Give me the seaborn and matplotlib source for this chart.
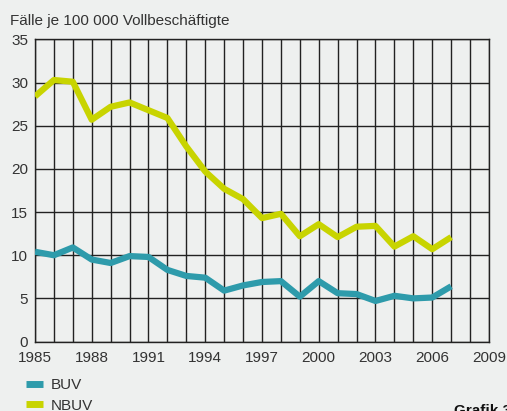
import numpy as np
import pandas as pd
import seaborn as sns
import matplotlib.pyplot as plt
from matplotlib.ticker import FixedLocator, MultipleLocator

years = list(range(1985, 2008))
buv = [10.4, 10.0, 10.9, 9.5, 9.1, 9.9, 9.8, 8.3, 7.6, 7.4, 5.9, 6.5,
       6.9, 7.0, 5.2, 7.0, 5.6, 5.5, 4.7, 5.3, 5.0, 5.1, 6.4]
nbuv = [28.4, 30.3, 30.1, 25.7, 27.2, 27.7, 26.8, 25.9, 22.6, 19.7, 17.7, 16.5,
        14.3, 14.8, 12.2, 13.6, 12.1, 13.3, 13.4, 11.0, 12.2, 10.7, 12.1]
series = ["BUV", "NBUV"]
colors = ["#2e9bab", "#c8d400"]
xticks = list(range(1985, 2010, 3))

df = pd.DataFrame({"Jahr": years * 2,
                   "Wert": buv + nbuv,
                   "Reihe": ["BUV"] * len(years) + ["NBUV"] * len(years)})

bg = "#eef0ef"
sns.set_style("white", {"axes.facecolor": bg, "figure.facecolor": bg})
plt.rcParams["font.family"] = ["Liberation Sans", "DejaVu Sans"]
txt = "#333333"

fig = plt.figure(figsize=(5.07, 4.11), dpi=100)
ax = fig.add_axes([0.069, 0.169, 0.8955, 0.735])

sns.lineplot(data=df, x="Jahr", y="Wert", hue="Reihe", hue_order=series,
             palette=colors, linewidth=4.5, ax=ax, legend=False,
             solid_capstyle="butt", zorder=3)

ax.set_xlim(1985, 2009)
ax.set_ylim(0, 35)
ax.xaxis.set_major_locator(FixedLocator(xticks))
ax.xaxis.set_minor_locator(MultipleLocator(1))
ax.yaxis.set_major_locator(MultipleLocator(5))
ax.grid(which="both", axis="x", color="#222222", linewidth=1.0)
ax.grid(which="major", axis="y", color="#222222", linewidth=1.0)
ax.set_axisbelow(True)
for s in ax.spines.values():
    s.set_color("#222222")
    s.set_linewidth(1.0)
ax.tick_params(which="both", length=0, labelsize=11, labelcolor=txt)
ax.tick_params(axis="x", pad=7)
ax.tick_params(axis="y", pad=5)
ax.set_xlabel("")
ax.set_ylabel("")

fig.text(0.02, 0.965, "Fälle je 100 000 Vollbeschäftigte", fontsize=11,
         color=txt, va="top", ha="left")

handles = [plt.Line2D([], [], color=c, linewidth=5, solid_capstyle="butt") for c in colors]
fig.legend(handles, series, loc="upper left", bbox_to_anchor=(0.052, 0.08),
           frameon=False, fontsize=11, handlelength=1.1, handletextpad=0.5,
           labelspacing=0.42, borderaxespad=0, borderpad=0, labelcolor=txt)

fig.text(0.895, 0.016, "Grafik 3", fontsize=11, fontweight="bold",
         color="#111111", va="top", ha="left")

fig.savefig("out.png", dpi=100, facecolor=bg)
